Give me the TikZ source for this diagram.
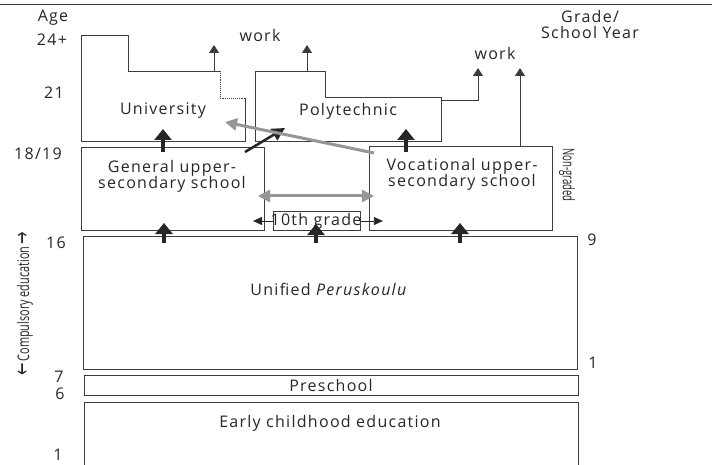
\documentclass[tikz,border=0pt]{standalone}
\usepackage{fontspec}
\setmainfont{Open Sans}[LetterSpace=8]
\newfontfamily\narrowfont{Open Sans}
\newfontfamily\symbolfont{DejaVu Sans}
\usetikzlibrary{arrows.meta}
\definecolor{inkgray}{HTML}{262626}
\definecolor{linegray}{HTML}{3c3c3c}
\definecolor{pathgray}{HTML}{969696}

\begin{document}
\begin{tikzpicture}[x=1pt,y=-1pt,font=\fontsize{16}{16}\selectfont,text=inkgray]

    % let's define some key values
    \def\xleft{81}
    \def\xright{578}
    \def\ytopsec{147}
    \def\ybotsec{230}
    \def\ybothigh{141}

    % Styles
    \tikzstyle{stage}=[draw=linegray, line width=0.9pt, anchor=north west, inner sep=0pt]
    \tikzstyle{txt}=[inner sep=0pt, align=center]
    \tikzstyle{flow}=[draw=inkgray, line width=4pt, -{Triangle[width=17pt,length=11pt]}]
    \tikzstyle{exit}=[draw=linegray, line width=0.9pt, -{Triangle[width=10pt,length=8pt]}]
    \tikzstyle{sidestep}=[draw=inkgray, line width=0.8pt, -{Triangle[width=8pt,length=9pt]}]
    \tikzstyle{change}=[draw=pathgray, line width=3pt, -{Triangle[width=12pt,length=12pt]}]
    \tikzstyle{sidenote}=[txt, font=\narrowfont\fontsize{16}{16}\selectfont]

    \useasboundingbox (0,0) rectangle (712,465);

    % top rule
    \draw[linegray, line width=0.8pt] (0,4) coordinate (rulel) -- (712,4) coordinate (ruler);

    % age axis
    \node[txt] (age) at (53,18) {Age};
    \node[txt] (a24) at (52,40) {24+};
    \node[txt] (a21) at (54,93) {21};
    \node[txt] (a18) at (38,154) {18/19};
    \node[txt] (a16) at (56,243) {16};
    \node[txt] (a7) at (59,377) {7};
    \node[txt] (a6) at (60,394) {6};
    \node[txt] (a1) at (58,455) {1};

    % grade axis
    \node[txt] (grade) at (590,25) {Grade/\\School Year};
    \node[txt] (g9) at (592,240) {9};
    \node[txt] (g1) at (593,363) {1};
    \node[sidenote, rotate=-90] (nongraded) at (567,175) {\scalebox{0.6}[1]{Non-graded}};
    \node[sidenote, rotate=90] (compulsory) at (25,304) {\scalebox{0.68}[1]{{\symbolfont\fontsize{22}{22}\selectfont ←}\,Compulsory education\,{\symbolfont\fontsize{22}{22}\selectfont →}}};

    % university
    \draw[linegray, line width=0.9pt] (220,71) -- (128,71) -- (128,35) -- (\xleft,35) -- (\xleft,\ybothigh) -- (245,\ybothigh) -- (245,98);
    \draw[linegray, line width=0.9pt, densely dotted] (220,71) -- (220,98) -- (245,98);
    \node[txt] (university) at (163,111) {University};
    \coordinate (unibase) at (163,129);
    \coordinate (uniside) at (225,122);

    % polytechnic
    \draw[linegray, line width=0.9pt] (255,\ybothigh) -- (255,71) -- (325,71) -- (325,97) -- (441,97) -- (441,\ybothigh) -- cycle;
    \node[txt] (polytechnic) at (348,111) {Polytechnic};
    \coordinate (polybase) at (406,129);
    \coordinate (polyside) at (285,128);

    % work
    \node[txt] (workl) at (260,36) {work};
    \node[txt] (workr) at (495,54) {work};
    \coordinate (uniout) at (214,71);
    \coordinate (uniwork) at (214,45);
    \coordinate (polyout) at (307,71);
    \coordinate (polywork) at (307,45);
    \coordinate (polyright) at (441,100);
    \coordinate (polywork2) at (478,68);
    \coordinate (vocout) at (520,146);
    \coordinate (vocwork) at (520,68);
    \draw[exit] (uniout) -- (uniwork);
    \draw[exit] (polyout) -- (polywork);
    \draw[exit] (polyright) -| (polywork2);
    \draw[exit] (vocout) -- (vocwork);

    % upper-secondary
    \node[stage, minimum width=183, minimum height=83] (general) at (\xleft,\ytopsec) {};
    \node[txt] (generaltxt) at (172,176) {General upper-\\secondary school};
    \node[stage, minimum width=183, minimum height=84] (vocational) at (369,146) {};
    \node[txt] (vocationaltxt) at (462,174) {Vocational upper-\\secondary school};
    \node[stage, minimum width=87, minimum height=19] (tenth) at (273,211) {};
    \node[txt] (tenthtxt) at (316,221) {10th grade};

    % basic education
    \node[stage, minimum width=494, minimum height=133] (unified) at (83,236) {};
    \node[txt] (unifiedtxt) at (329,289) {Unified \textit{Peruskoulu}};
    \node[stage, minimum width=494, minimum height=20] (preschool) at (84,375) {};
    \node[txt] (preschooltxt) at (331,385) {Preschool};
    \draw[linegray, line width=0.9pt] (84,470) -- (84,402) -- (\xright,402) -- (\xright,470);
    \node[txt] (earlytxt) at (330,423) {Early childhood education};

    % up the ladder
    \coordinate (gentop) at (163,152);
    \coordinate (voctop) at (406,152);
    \coordinate (genbase) at (164,223);
    \coordinate (tenthbase) at (316,224);
    \coordinate (vocbase) at (460,223);
    \coordinate (unigen) at (164,243);
    \coordinate (unitenth) at (316,243);
    \coordinate (univoc) at (460,243);
    \draw[flow] (gentop) -- (unibase);
    \draw[flow] (voctop) -- (polybase);
    \draw[flow] (unigen) -- (genbase);
    \draw[flow] (unitenth) -- (tenthbase);
    \draw[flow] (univoc) -- (vocbase);

    % crossings
    \coordinate (gencorner) at (245,152);
    \coordinate (voccorner) at (374,153);
    \draw[sidestep, line width=2.5pt, -{Triangle[width=13pt,length=13pt]}] (gencorner) -- (polyside);
    \draw[change] (voccorner) -- (uniside);
    \coordinate (genmid) at (258,196);
    \coordinate (vocmid) at (374,196);
    \draw[change, {Triangle[width=12pt,length=12pt]}-{Triangle[width=12pt,length=12pt]}] (genmid) -- (vocmid);
    \draw[sidestep] (tenth.west |- tenthtxt) -- +(-20,0) coordinate (tenthl);
    \draw[sidestep] (tenth.east |- tenthtxt) -- +(22,0) coordinate (tenthr);

\end{tikzpicture}
\end{document}
